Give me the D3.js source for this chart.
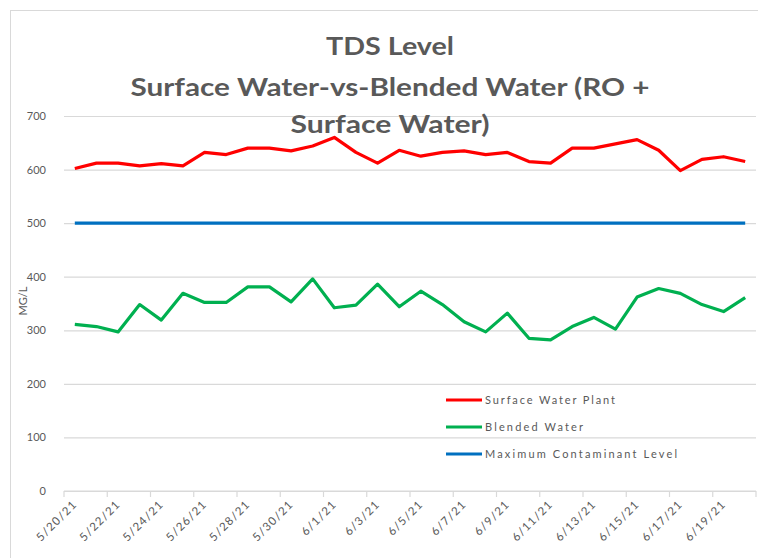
<!DOCTYPE html>
<html>
<head>
<meta charset="utf-8">
<script src="https://cdn.jsdelivr.net/npm/d3@7"></script>
<style>
  body { margin: 0; background: #fff; }
  text { font-family: Lato, "Open Sans", sans-serif; fill: #595959; }
</style>
</head>
<body>
<div id="chart"></div>
<script>
const dates = [
  '5/20/21', '5/21/21', '5/22/21', '5/23/21', '5/24/21', '5/25/21', '5/26/21', '5/27/21',
  '5/28/21', '5/29/21', '5/30/21', '5/31/21', '6/1/21', '6/2/21', '6/3/21', '6/4/21',
  '6/5/21', '6/6/21', '6/7/21', '6/8/21', '6/9/21', '6/10/21', '6/11/21', '6/12/21',
  '6/13/21', '6/14/21', '6/15/21', '6/16/21', '6/17/21', '6/18/21', '6/19/21', '6/20/21'
];
const surfaceWater = [
  602, 612, 612, 607, 611, 607, 632, 628, 640, 640, 635, 644, 660, 632, 612, 636,
  625, 632, 635, 628, 632, 615, 612, 640, 640, 648, 656, 636, 598, 619, 624, 615
];
const blendedWater = [
  311, 307, 297, 348, 319, 369, 352, 352, 381, 381, 353, 396, 342, 347, 386, 344,
  373, 348, 316, 297, 332, 285, 282, 307, 324, 302, 362, 378, 369, 348, 335, 361
];
const mcl = dates.map(() => 500);
const yTicks = [0, 100, 200, 300, 400, 500, 600, 700];
const titleLines = ['TDS Level', 'Surface Water-vs-Blended Water (RO +', 'Surface Water)'];
const seriesNames = ['Surface Water Plant', 'Blended Water', 'Maximum Contaminant Level'];
const seriesColors = ['#ff0000', '#00b050', '#0070c0'];

const W = 758, H = 558;
const margin = { left: 64, right: 756, top: 116, bottom: 491 };

const svg = d3.select('#chart').append('svg')
  .attr('width', W)
  .attr('height', H);

// chart frame
svg.append('rect')
  .attr('x', 10.5).attr('y', 10.5)
  .attr('width', 900).attr('height', 900)
  .attr('fill', 'none')
  .attr('stroke', '#d9d9d9');

const x = d3.scaleBand()
  .domain(dates)
  .range([margin.left, margin.right]);

const y = d3.scaleLinear()
  .domain([0, 700])
  .range([margin.bottom, margin.top]);

const cx = d => x(d) + x.bandwidth() / 2;

// gridlines + y labels
const yAxis = svg.append('g')
  .attr('transform', `translate(${margin.left},0)`)
  .call(d3.axisLeft(y).tickValues(yTicks).tickSize(-(margin.right - margin.left)).tickPadding(18));
yAxis.select('.domain').remove();
yAxis.selectAll('.tick line').attr('stroke', '#d9d9d9').attr('stroke-width', 1.2);
yAxis.selectAll('.tick text')
  .attr('font-size', 11)
  .attr('fill', '#595959')
  .style('font-family', 'Lato, sans-serif');

svg.append('text')
  .attr('transform', 'translate(27,301) rotate(-90)')
  .attr('text-anchor', 'middle')
  .attr('font-size', 11)
  .text('MG/L');

// x axis
svg.append('line')
  .attr('x1', margin.left).attr('x2', margin.right)
  .attr('y1', margin.bottom).attr('y2', margin.bottom)
  .attr('stroke', '#d9d9d9').attr('stroke-width', 1.2);

const tickDates = dates.filter((d, i) => i % 2 === 0);
svg.selectAll('.xtick')
  .data(tickDates.concat([null]))
  .enter().append('line')
  .attr('class', 'xtick')
  .attr('x1', d => d === null ? margin.right : x(d))
  .attr('x2', d => d === null ? margin.right : x(d))
  .attr('y1', margin.bottom).attr('y2', margin.bottom + 6)
  .attr('stroke', '#d9d9d9').attr('stroke-width', 1.2);

svg.selectAll('.xlabel')
  .data(tickDates)
  .enter().append('text')
  .attr('class', 'xlabel')
  .attr('transform', d => `translate(${cx(d) + 3},${margin.bottom + 14}) rotate(-45)`)
  .attr('text-anchor', 'end')
  .attr('font-size', 11.5)
  .attr('letter-spacing', 1.2)
  .text(d => d);

// series
const line = d3.line()
  .x((v, i) => cx(dates[i]))
  .y(v => y(v));

[surfaceWater, blendedWater, mcl].forEach((vals, k) => {
  svg.append('path')
    .datum(vals)
    .attr('fill', 'none')
    .attr('stroke', seriesColors[k])
    .attr('stroke-width', 3.2)
    .attr('stroke-linejoin', 'round')
    .attr('d', line);
});

// title
const titleY = [55, 96, 133];
const titleW = [128, 519, 199];
svg.selectAll('.title')
  .data(titleLines)
  .enter().append('text')
  .attr('class', 'title')
  .attr('x', 390)
  .attr('y', (d, i) => titleY[i])
  .attr('text-anchor', 'middle')
  .attr('font-size', 25)
  .attr('font-weight', 'bold')
  .attr('textLength', (d, i) => titleW[i])
  .attr('lengthAdjust', 'spacingAndGlyphs')
  .text(d => d);

// legend
const legendY = [400, 427, 454];
const legendW = [130, 98, 192];
const legend = svg.append('g');
seriesNames.forEach((name, k) => {
  legend.append('line')
    .attr('x1', 446).attr('x2', 482)
    .attr('y1', legendY[k]).attr('y2', legendY[k])
    .attr('stroke', seriesColors[k])
    .attr('stroke-width', 3.2);
  legend.append('text')
    .attr('x', 485)
    .attr('y', legendY[k] + 4)
    .attr('font-size', 11)
    .attr('textLength', legendW[k])
    .attr('lengthAdjust', 'spacing')
    .text(name);
});
</script>
</body>
</html>
